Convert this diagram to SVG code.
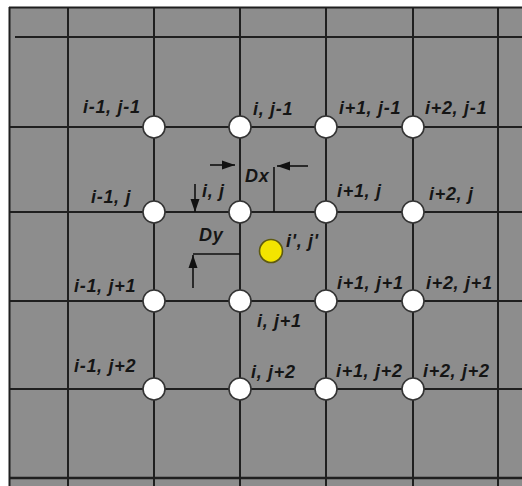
<svg xmlns="http://www.w3.org/2000/svg" width="522" height="486" viewBox="0 0 522 486">
<style>
.grid{stroke:#1f1f1f;stroke-width:2;fill:none}
.node{fill:#ffffff;stroke:#333333;stroke-width:1.6}
.lbl{font-family:"Liberation Sans",Arial,sans-serif;font-weight:bold;font-style:italic;font-size:18px;letter-spacing:0.7px;fill:#151515}
.dim{stroke:#111;stroke-width:1.6;fill:none}
</style>
<defs>
<marker id="ah" markerUnits="userSpaceOnUse" markerWidth="14" markerHeight="10" refX="13" refY="5" orient="auto">
<path d="M0,0.5 L13,5 L0,9.5 Z" fill="#111"/>
</marker>
</defs>
<rect x="0" y="0" width="522" height="486" fill="#ffffff"/>
<rect x="9" y="7" width="513" height="479" fill="#8d8d8d"/>
<g id="grid" class="grid">
<line x1="9" y1="7.5" x2="522" y2="7.5"/>
<line x1="9.5" y1="7" x2="9.5" y2="486"/>
<line x1="15" y1="37" x2="522" y2="37"/>
<line x1="9" y1="127" x2="522" y2="127"/>
<line x1="9" y1="212" x2="522" y2="212"/>
<line x1="9" y1="301" x2="522" y2="301"/>
<line x1="9" y1="389" x2="522" y2="389"/>
<line x1="9" y1="478" x2="522" y2="478" stroke-width="2.5"/>
<line x1="68" y1="7" x2="68" y2="486"/>
<line x1="154" y1="7" x2="154" y2="486"/>
<line x1="240" y1="7" x2="240" y2="486"/>
<line x1="326" y1="7" x2="326" y2="486"/>
<line x1="413" y1="7" x2="413" y2="486"/>
<line x1="498" y1="7" x2="498" y2="486"/>
</g>
<g id="connectors">
<line class="dim" x1="210" y1="165" x2="235" y2="165" marker-end="url(#ah)"/>
<line class="dim" x1="308" y1="166" x2="277" y2="166" marker-end="url(#ah)"/>
<line class="dim" x1="274" y1="167" x2="274" y2="212"/>
<line class="dim" x1="195" y1="184" x2="195" y2="212" marker-end="url(#ah)"/>
<line class="dim" x1="193" y1="254" x2="240" y2="254"/>
<line class="dim" x1="193" y1="288" x2="193" y2="255" marker-end="url(#ah)"/>
</g>
<g id="n-im1-jm1"><circle class="node" cx="154" cy="127" r="11"/><text class="lbl" x="83" y="113">i-1, j-1</text></g>
<g id="n-i-jm1"><circle class="node" cx="240" cy="127" r="11"/><text class="lbl" x="253" y="115">i, j-1</text></g>
<g id="n-ip1-jm1"><circle class="node" cx="326" cy="127" r="11"/><text class="lbl" x="339" y="114">i+1, j-1</text></g>
<g id="n-ip2-jm1"><circle class="node" cx="413" cy="127" r="11"/><text class="lbl" x="425" y="114">i+2, j-1</text></g>
<g id="n-im1-j"><circle class="node" cx="154" cy="212" r="11"/><text class="lbl" x="91" y="203">i-1, j</text></g>
<g id="n-i-j"><circle class="node" cx="240" cy="212" r="11"/><text class="lbl" x="202" y="197">i, j</text></g>
<g id="n-ip1-j"><circle class="node" cx="326" cy="212" r="11"/><text class="lbl" x="337" y="197">i+1, j</text></g>
<g id="n-ip2-j"><circle class="node" cx="413" cy="212" r="11"/><text class="lbl" x="429" y="200">i+2, j</text></g>
<g id="n-im1-jp1"><circle class="node" cx="154" cy="301" r="11"/><text class="lbl" x="74" y="292">i-1, j+1</text></g>
<g id="n-i-jp1"><circle class="node" cx="240" cy="301" r="11"/><text class="lbl" x="257" y="327">i, j+1</text></g>
<g id="n-ip1-jp1"><circle class="node" cx="326" cy="301" r="11"/><text class="lbl" x="337" y="289">i+1, j+1</text></g>
<g id="n-ip2-jp1"><circle class="node" cx="413" cy="301" r="11"/><text class="lbl" x="426" y="289">i+2, j+1</text></g>
<g id="n-im1-jp2"><circle class="node" cx="154" cy="389" r="11"/><text class="lbl" x="74" y="372">i-1, j+2</text></g>
<g id="n-i-jp2"><circle class="node" cx="240" cy="389" r="11"/><text class="lbl" x="251" y="378">i, j+2</text></g>
<g id="n-ip1-jp2"><circle class="node" cx="326" cy="389" r="11"/><text class="lbl" x="336" y="377">i+1, j+2</text></g>
<g id="n-ip2-jp2"><circle class="node" cx="413" cy="389" r="11"/><text class="lbl" x="423" y="377">i+2, j+2</text></g>
<g id="n-interp"><circle cx="271" cy="251" r="11.5" fill="#f3e400" stroke="#5e5a10" stroke-width="1.6"/><text class="lbl" x="286" y="247">i', j'</text></g>
<g id="dx-label"><text class="lbl" x="245" y="182">Dx</text></g>
<g id="dy-label"><text class="lbl" x="199" y="241">Dy</text></g>
</svg>
